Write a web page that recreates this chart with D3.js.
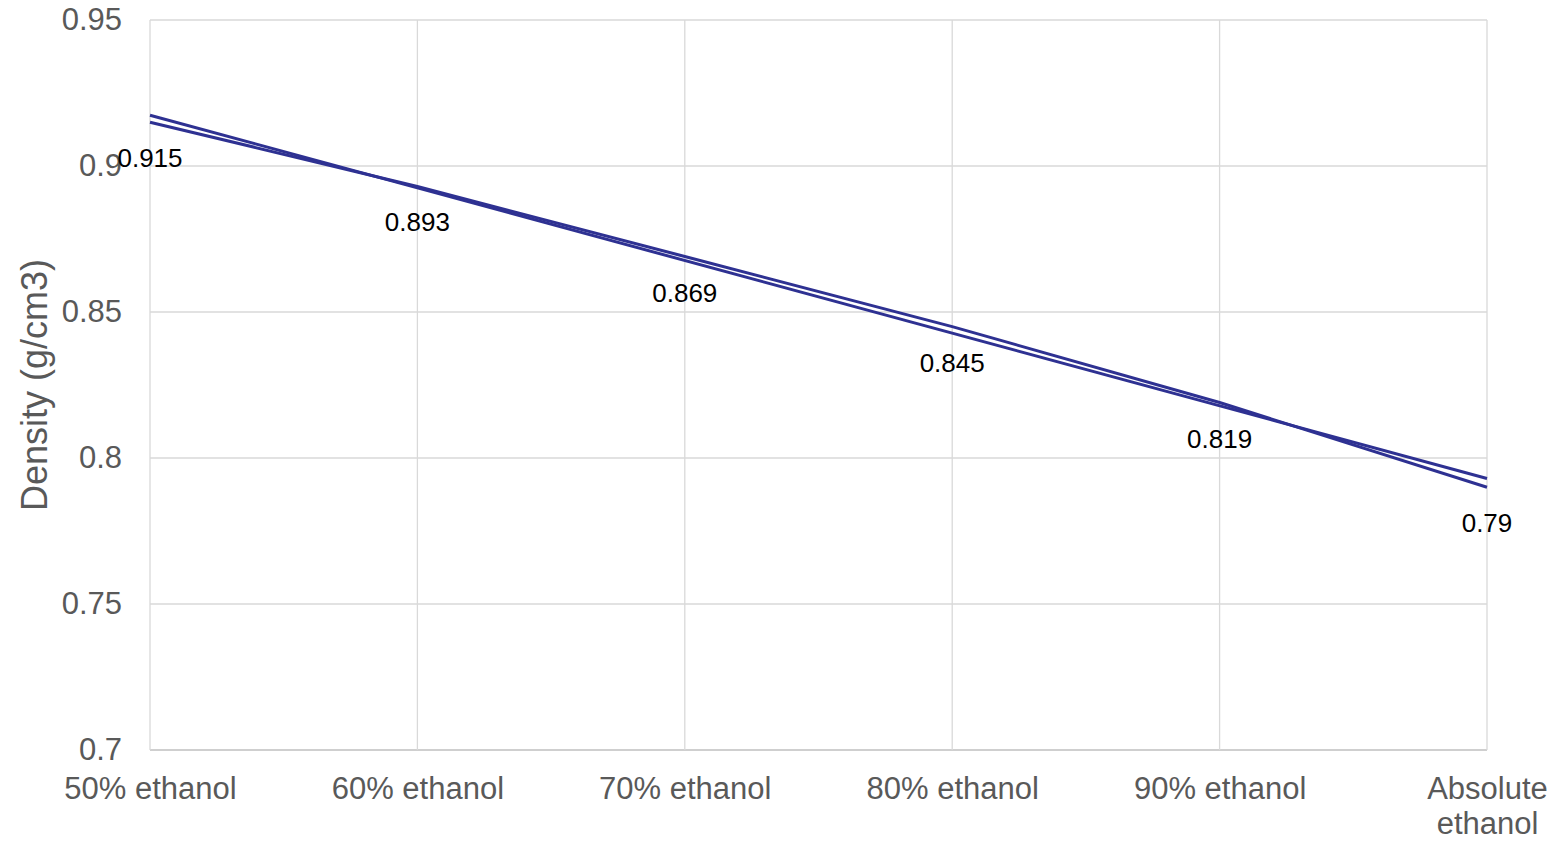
<!DOCTYPE html>
<html>
<head>
<meta charset="utf-8">
<script src="https://cdn.jsdelivr.net/npm/d3@7"></script>
<style>
  body { margin: 0; background: #fff; }
  text { font-family: "Liberation Sans", Arial, sans-serif; }
</style>
</head>
<body>
<script>
const categories = ['50% ethanol', '60% ethanol', '70% ethanol', '80% ethanol', '90% ethanol', 'Absolute ethanol']
const density = [0.915, 0.893, 0.869, 0.845, 0.819, 0.79]
// linear trendline, read at first and last category
const trendEnds = [0.9174, 0.7930]
const yTicks = [0.7, 0.75, 0.8, 0.85, 0.9, 0.95]

const width = 1557
const height = 842
const plotLeft = 150, plotRight = 1487, plotTop = 20, plotBottom = 750
const lineColor = '#2e3192'

const svg = d3.select('body').append('svg')
  .attr('width', width)
  .attr('height', height)

const x = d3.scalePoint()
  .domain(categories)
  .range([plotLeft, plotRight])

const y = d3.scaleLinear()
  .domain([0.7, 0.95])
  .range([plotBottom, plotTop])

// horizontal grid
svg.append('g')
  .selectAll('line')
  .data(yTicks)
  .enter()
  .append('line')
  .attr('x1', plotLeft)
  .attr('x2', plotRight)
  .attr('y1', d => y(d))
  .attr('y2', d => y(d))
  .attr('stroke', d => d === 0.7 ? '#bfbfbf' : '#d9d9d9')
  .attr('stroke-width', 1.3)

// vertical grid
svg.append('g')
  .selectAll('line')
  .data(categories)
  .enter()
  .append('line')
  .attr('x1', d => x(d))
  .attr('x2', d => x(d))
  .attr('y1', plotTop)
  .attr('y2', plotBottom)
  .attr('stroke', '#d9d9d9')
  .attr('stroke-width', 1.3)

// y axis labels
const yAxis = d3.axisLeft(y).tickValues(yTicks).tickSize(0).tickPadding(28)
  .tickFormat(d => String(+d.toFixed(2)))
const gy = svg.append('g')
  .attr('transform', `translate(${plotLeft},0)`)
  .call(yAxis)
gy.select('.domain').remove()
gy.selectAll('text').attr('font-size', 31).attr('fill', '#595959')
  .style('font-family', '"Liberation Sans", Arial, sans-serif')

// x axis labels
const gx = svg.append('g')
  .attr('transform', `translate(0,${plotBottom})`)
  .call(d3.axisBottom(x).tickSize(0).tickPadding(0).tickFormat(''))
gx.select('.domain').remove()
gx.selectAll('.tick').each(function (d) {
  const words = d === 'Absolute ethanol' ? ['Absolute', 'ethanol'] : [d]
  const t = d3.select(this).append('text')
    .attr('text-anchor', 'middle')
    .attr('font-size', 31)
    .attr('fill', '#595959')
  words.forEach((w, i) => {
    t.append('tspan').attr('x', 0).attr('y', 49 + i * 35).text(w)
  })
})

// axis title
svg.append('text')
  .attr('transform', `translate(47,${(plotTop + plotBottom) / 2}) rotate(-90)`)
  .attr('text-anchor', 'middle')
  .attr('font-size', 36)
  .attr('fill', '#595959')
  .text('Density (g/cm3)')

const line = d3.line()
  .x(d => x(d[0]))
  .y(d => y(d[1]))

// trendline
svg.append('path')
  .datum([[categories[0], trendEnds[0]], [categories[categories.length - 1], trendEnds[1]]])
  .attr('d', line)
  .attr('fill', 'none')
  .attr('stroke', lineColor)
  .attr('stroke-width', 3)

// data line
svg.append('path')
  .datum(categories.map((c, i) => [c, density[i]]))
  .attr('d', line)
  .attr('fill', 'none')
  .attr('stroke', lineColor)
  .attr('stroke-width', 3)

// data labels
svg.append('g')
  .selectAll('text')
  .data(categories)
  .enter()
  .append('text')
  .attr('x', d => x(d))
  .attr('y', (d, i) => y(density[i]) + 45)
  .attr('text-anchor', 'middle')
  .attr('font-size', 26)
  .attr('fill', '#000')
  .text((d, i) => String(density[i]))
</script>
</body>
</html>
